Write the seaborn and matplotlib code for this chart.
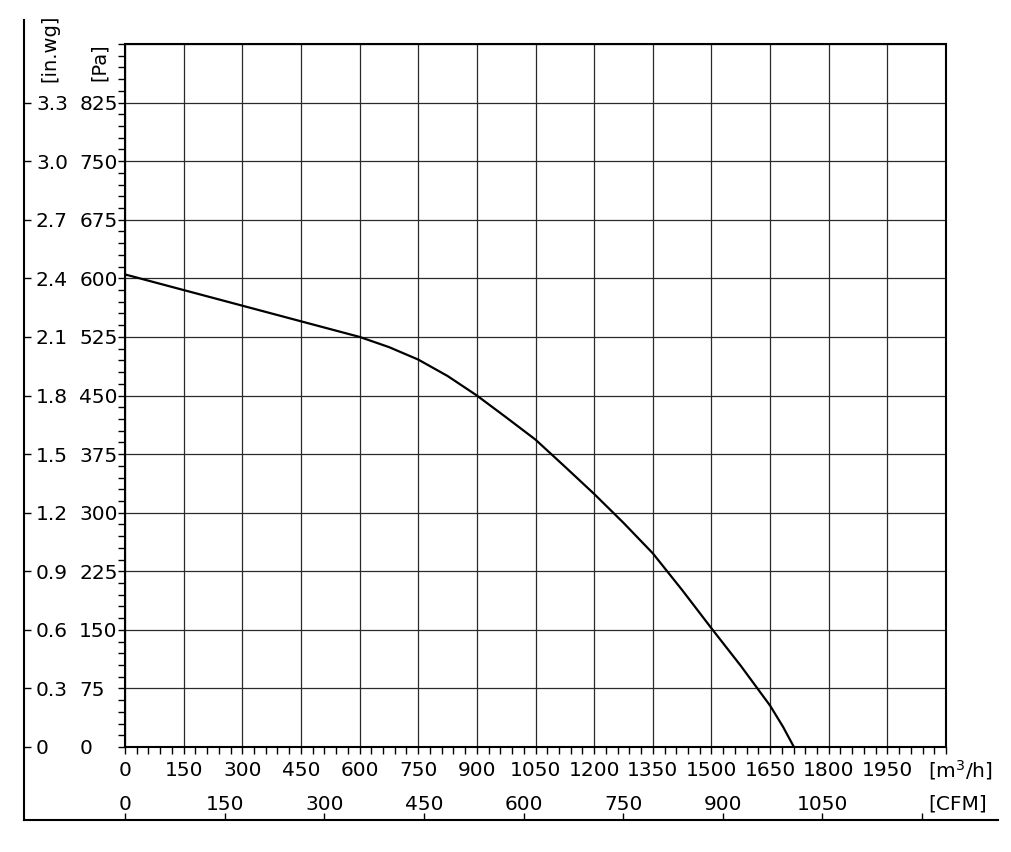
import matplotlib
matplotlib.use("Agg")
import matplotlib.pyplot as plt
import numpy as np
import seaborn as sns

# fan curve
flow_m3h = [0, 150, 300, 450, 600, 675, 750, 825, 900, 975, 1050, 1125,
            1200, 1275, 1350, 1425, 1500, 1575, 1650, 1683, 1711]
pressure_pa = [605, 585, 565, 545, 525, 512, 496, 475, 450, 422, 393.5, 359,
               324, 287, 248, 201, 152, 104, 53, 26, 0]

x_ticks = list(range(0, 2101, 150))
x_labels = [str(v) for v in range(0, 1951, 150)] + [""]
pa_ticks = list(range(0, 901, 75))
pa_labels = [str(v) for v in range(0, 826, 75)] + [""]
inwg_ticks = list(range(0, 826, 75))
inwg_labels = ["0", "0.3", "0.6", "0.9", "1.2", "1.5", "1.8", "2.1", "2.4", "2.7", "3.0", "3.3"]
cfm_ticks = [0, 150, 300, 450, 600, 750, 900, 1050, 1200]
cfm_labels = ["0", "150", "300", "450", "600", "750", "900", "1050", ""]
M3H_PER_CFM = 1.699

sns.set_style("white")
plt.rcParams["font.family"] = ["DejaVu Sans"]
plt.rcParams["font.size"] = 14.5
plt.rcParams["text.color"] = "black"
plt.rcParams["xtick.color"] = "black"
plt.rcParams["ytick.color"] = "black"
plt.rcParams["xtick.labelcolor"] = "black"
plt.rcParams["ytick.labelcolor"] = "black"

W, H = 1011, 852
fig = plt.figure(figsize=(W / 100, H / 100), dpi=100)

# main plot box in pixels
L, R, B, T = 125, 946, 747, 44
# outer frame in pixels
OL, OR, OB, OT = 24, 998, 820, 20

ax0 = fig.add_axes([OL / W, (H - OB) / H, (OR - OL) / W, (OB - OT) / H])
ax = fig.add_axes([L / W, (H - B) / H, (R - L) / W, (B - T) / H])
ax0.set_facecolor("none")
ax.set_facecolor("none")

xmax, ymax = 2100, 900
ax.set_xlim(0, xmax)
ax.set_ylim(0, ymax)

sns.lineplot(x=flow_m3h, y=pressure_pa, ax=ax, color="black", linewidth=1.6,
             solid_joinstyle="round")

ax.set_xticks(x_ticks)
ax.set_xticklabels(x_labels)
ax.set_xticks(np.arange(0, 2101, 30), minor=True)
ax.set_yticks(pa_ticks)
ax.set_yticklabels(pa_labels)
ax.set_yticks(np.arange(0, 901, 15), minor=True)
ax.grid(True, which="major", color="#2a2a2a", linewidth=0.9)
ax.tick_params(which="both", direction="out", length=5, width=1, color="black",
               bottom=True, left=True, top=False, right=False)
ax.tick_params(axis="x", pad=5)
ax.tick_params(axis="y", pad=28)
for lab in ax.get_yticklabels():
    lab.set_horizontalalignment("left")
for s in ax.spines.values():
    s.set_linewidth(1.5)
    s.set_color("black")
ax.set_xlabel("")
ax.set_ylabel("")

# outer frame axes: CFM on the bottom, in.wg on the left
sx = xmax / (R - L)
sy = ymax / (B - T)
ax0.set_xlim((OL - L) * sx, (OR - L) * sx)
ax0.set_ylim(-(OB - B) * sy, (B - OT) * sy)
ax0.set_xticks([c * M3H_PER_CFM for c in cfm_ticks])
ax0.set_xticklabels(cfm_labels)
ax0.set_yticks(inwg_ticks)
ax0.set_yticklabels(inwg_labels)
ax0.tick_params(which="both", direction="in", length=5, width=1, color="black",
                bottom=True, left=True, top=False, right=False)
ax0.tick_params(axis="x", pad=-18)
ax0.tick_params(axis="y", pad=-8.6)
for lab in ax0.get_yticklabels():
    lab.set_horizontalalignment("left")
for side in ["top", "right"]:
    ax0.spines[side].set_visible(False)
for side in ["left", "bottom"]:
    ax0.spines[side].set_linewidth(1.5)
    ax0.spines[side].set_color("black")

# unit labels
fig.text(50 / W, (H - 82) / H, "[in.wg]", rotation=90, ha="center", va="bottom",
         fontsize=14)
fig.text(99 / W, (H - 81) / H, "[Pa]", rotation=90, ha="center", va="bottom",
         fontsize=14)
fig.text(928 / W, (H - 770) / H, "[m$^3$/h]", ha="left", va="center")
fig.text(928 / W, (H - 804) / H, "[CFM]", ha="left", va="center")

fig.savefig("out.png", dpi=100)
